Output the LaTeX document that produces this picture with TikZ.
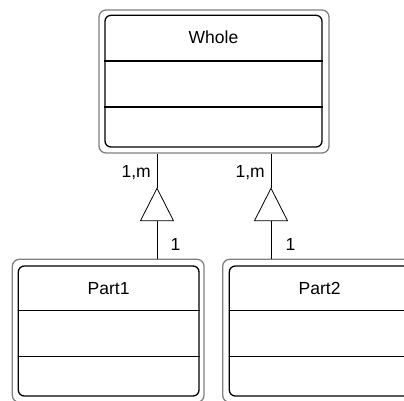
\documentclass[tikz,border=0pt]{standalone}
\usepackage{fontspec}
\setmainfont{Liberation Sans}
\begin{document}
\begin{tikzpicture}[x=1pt,y=-1pt,
  outerbox/.style={draw=black!50, line width=1.3pt, rounded corners=7pt, minimum width=#1, inner sep=0pt},
  innerbox/.style={draw=black, line width=1.3pt, rounded corners=6pt, inner sep=0pt},
  divider/.style={draw=black, line width=1.3pt},
  conn/.style={draw=black, line width=0.8pt},
  tri/.style={draw=black, line width=0.8pt, fill=white},
  lbl/.style={font=\fontsize{17.5}{20}\selectfont, inner sep=0pt},
  mult/.style={font=\fontsize{17.5}{20}\selectfont, inner sep=0pt}]
\useasboundingbox (0,0) rectangle (404,401);
\clip (0,0) rectangle (404,401);
% Whole
\node[outerbox=230pt, minimum height=143pt] (wholeO) at (214,81.5) {};
\node[innerbox, minimum width=217pt, minimum height=131.7pt] (whole) at (213.5,81.15) {};
\draw[divider] (whole.west |- 0,61) -- (whole.east |- 0,61);
\draw[divider] (whole.west |- 0,107) -- (whole.east |- 0,107);
\node[lbl, anchor=base] (wholeT) at (213.5,43.3) {Whole};
% Part1
\node[outerbox=191.7pt, minimum height=143pt] (p1O) at (108.15,330.8) {};
\node[innerbox, minimum width=180.7pt, minimum height=130pt] (p1) at (108.65,331) {};
\draw[divider] (p1.west |- 0,310.7) -- (p1.east |- 0,310.7);
\draw[divider] (p1.west |- 0,356.7) -- (p1.east |- 0,356.7);
\node[lbl, anchor=base] (p1T) at (108.65,294) {Part1};
% Part2
\node[outerbox=191.7pt, minimum height=143pt] (p2O) at (318.55,330.8) {};
\node[innerbox, minimum width=180.7pt, minimum height=130pt] (p2) at (319.65,331) {};
\draw[divider] (p2.west |- 0,310.7) -- (p2.east |- 0,310.7);
\draw[divider] (p2.west |- 0,356.7) -- (p2.east |- 0,356.7);
\node[lbl, anchor=base] (p2T) at (319.65,294) {Part2};
% connector 1
\coordinate (a1) at (157,188.3);
\coordinate (b1) at (157,220.7);
\draw[conn] (wholeO.south -| a1) -- (a1);
\draw[conn] (b1) -- (p1O.north -| b1);
\draw[tri] (a1) -- ++(-16.5,32.4) -- ++(33,0) -- cycle;
\node[mult, anchor=base east] (m1) at (151,177.3) {1,m};
\node[mult, anchor=base west] (o1) at (170.5,250) {1};
% connector 2
\coordinate (a2) at (271,188.3);
\coordinate (b2) at (271,220.7);
\draw[conn] (wholeO.south -| a2) -- (a2);
\draw[conn] (b2) -- (p2O.north -| b2);
\draw[tri] (a2) -- ++(-16.5,32.4) -- ++(33,0) -- cycle;
\node[mult, anchor=base east] (m2) at (265,177.3) {1,m};
\node[mult, anchor=base west] (o2) at (285.5,250) {1};
\end{tikzpicture}
\end{document}
